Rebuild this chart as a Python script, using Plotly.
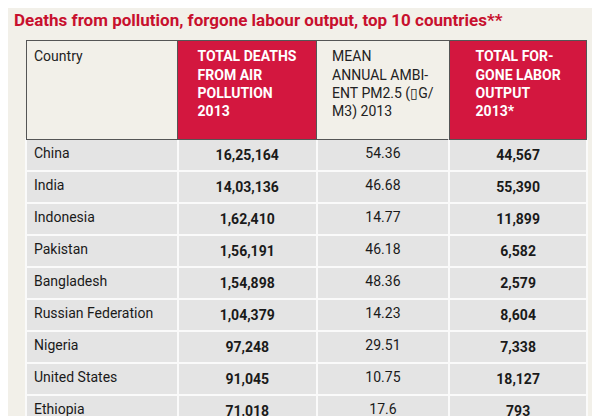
import plotly.graph_objects as go

countries = ["China", "India", "Indonesia", "Pakistan", "Bangladesh", "Russian Federation",
             "Nigeria", "United States", "Ethiopia", "Vietnam"]
deaths = ["16,25,164", "14,03,136", "1,62,410", "1,56,191", "1,54,898", "1,04,379",
          "97,248", "91,045", "71,018", "66,314"]
pm25 = ["54.36", "46.68", "14.77", "46.18", "48.36", "14.23", "29.51", "10.75", "17.6", "25.47"]
labor = ["44,567", "55,390", "11,899", "6,582", "2,579", "8,604", "7,338", "18,127", "793", "1,557"]

headers = ["<br><br>Country",
           "<b>TOTAL DEATHS<br>FROM AIR<br>POLLUTION<br>2013</b>",
           "MEAN<br>ANNUAL AMBI-<br>ENT PM2.5 (\u25afG/<br>M3) 2013",
           "<b>TOTAL FOR-<br>GONE LABOR<br>OUTPUT<br>2013*</b>"]

bg = "#f2f0e9"
red = "#d3173f"
fnt = "Roboto, sans-serif"

fig = go.Figure(go.Table(
    domain=dict(x=[0.03, 0.965], y=[0, 0.922]),
    columnwidth=[151, 138, 132, 137],
    header=dict(
        values=headers,
        fill_color=[bg, red, bg, red],
        font=dict(family=fnt, size=14, color=["#222", "white", "#222", "white"]),
        align=["left", "center", "center", "center"],
        height=99,
        line=dict(color="#555", width=1),
    ),
    cells=dict(
        values=[countries, ["<b>%s</b>" % d for d in deaths], pm25, ["<b>%s</b>" % l for l in labor]],
        fill_color="#e4e4e4",
        font=dict(family=fnt, size=14, color="#1a1a1a"),
        align=["left", "center", "center", "center"],
        height=28.4,
        line=dict(color="#fafafa", width=2),
    ),
))

fig.update_layout(
    width=600, height=416,
    paper_bgcolor=bg,
    margin=dict(l=0, r=0, t=0, b=0),
    title=dict(text="<b>Deaths from pollution, forgone labour output, top 10 countries**</b>",
               x=0.01, xanchor="left", y=0.985, yanchor="top",
               font=dict(family=fnt, size=17, color="#c8102e")),
)

fig.write_html("out.html")
